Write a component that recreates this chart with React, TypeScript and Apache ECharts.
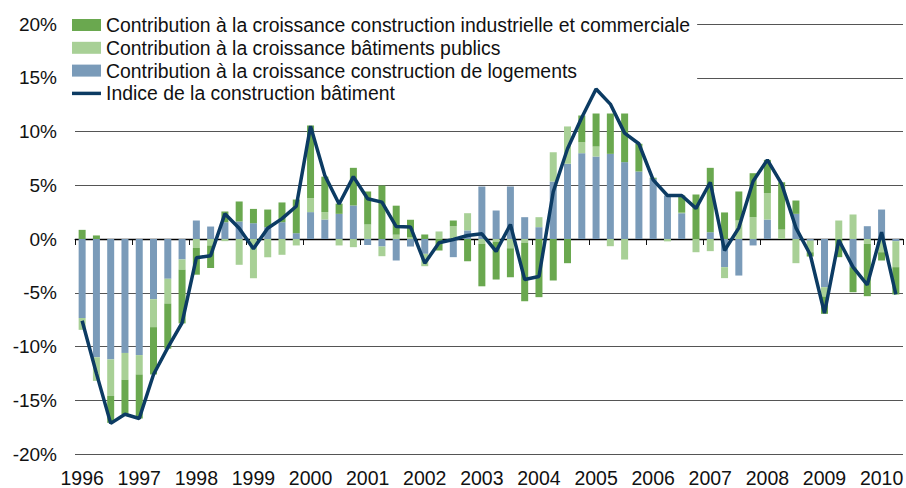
import React, { useEffect, useRef } from "react";
import * as echarts from "echarts";

const years = ["1996","1997","1998","1999","2000","2001","2002","2003","2004","2005","2006","2007","2008","2009","2010"];
const quarterCount = 58;

const seriesNames = [
  "Contribution à la croissance construction industrielle et commerciale",
  "Contribution à la croissance bâtiments publics",
  "Contribution à la croissance construction de logements",
  "Indice de la construction bâtiment",
];

// Logements (blue)
const logements = [
  -7.35, -11.0, -11.2, -10.6, -10.8, -5.6, -3.7, -1.9,
  1.72, 1.16, 1.56, 1.63, 1.47, 1.1, 1.56, 0.54,
  2.5, 1.81, 2.34, 3.12, -0.56, -0.7, -2.0, -0.7,
  -1.38, 0, -1.69, 0.8, 4.88, 2.65, 4.88, 2.03,
  1.1, 5.35, 7.0, 7.98, 7.67, 7.92, 7.15, 6.28,
  5.6, 4.05, 2.4, 0, 0.63, -2.62, -3.4, -0.6,
  1.81, 0, 2.34, -0.15, -4.48, 0, -2.62, 1.19,
  2.74, -0.2,
];

// Bâtiments publics (light green)
const publics = [
  -1.1, -2.2, -3.4, -2.5, -1.8, -2.6, -2.3, -0.95,
  -0.82, -0.6, -0.2, -2.4, -3.65, -1.7, -1.47, -0.6,
  1.3, 0.69, -0.6, -0.76, 1.35, -0.9, 0.4, 0.15,
  -1.15, 0.7, 1.19, 1.6, -0.45, -0.25, -0.86, -0.34,
  0.93, 2.72, 3.47, 1.02, 0.93, -0.67, -1.91, 0,
  0, -0.22, 0.05, -1.23, -1.13, -1.02, 1.72, 2.03,
  2.45, 0.88, -2.25, -1.08, -0.87, 1.72, 2.28, -0.45,
  -1.23, -2.42,
];

// Industrielle et commerciale (dark green)
const industrielle = [
  0.85, 0.33, -2.5, -3.2, -4.1, -4.4, -4.2, -5.0,
  -2.5, -2.1, 1.0, 1.86, 1.33, 1.64, 1.84, 3.13,
  6.76, 3.3, 0.95, 3.5, 3.07, 4.98, 2.7, 1.64,
  0.42, -1.07, 0.53, -2.07, -3.95, -3.52, -2.69, -5.45,
  -5.41, -3.86, -2.25, 2.49, 5.37, 5.27, 4.65, 2.58,
  0.1, 0, 1.6, 4.14, 5.99, 2.47, 2.7, 4.09,
  3.1, 4.4, 1.24, -0.4, -1.61, -1.69, -2.33, -4.87,
  -0.77, -2.54,
];

// Indice (line)
const indice = [
  -7.6, -12.5, -17.15, -16.3, -16.7, -12.6, -10.1, -7.8,
  -1.75, -1.55, 2.34, 1.0, -0.9, 1.0, 1.9, 3.05,
  10.5, 5.9, 3.25, 5.8, 3.75, 3.43, 1.16, 1.12,
  -2.25, -0.35, -0.05, 0.33, 0.48, -1.15, 1.35, -3.77,
  -3.49, 4.4, 8.4, 11.3, 13.95, 12.55, 9.85, 8.86,
  5.5, 4.05, 4.05, 2.85, 5.28, -1.07, 1.04, 5.38,
  7.36, 5.13, 1.04, -1.44, -6.9, -0.09, -2.62, -4.26,
  0.63, -5.16,
];

const yTicks = { min: -20, max: 20, interval: 5 };

const categories: string[] = [];
for (let i = 0; i < quarterCount; i++) {
  categories.push(years[Math.floor(i / 4)] + "-T" + ((i % 4) + 1));
}

const FONT = "'Liberation Sans', Arial, Helvetica, sans-serif";
const C_DG = "#6aa84f";
const C_LG = "#a8d096";
const C_BL = "#7a9bb9";
const C_LN = "#0c3b63";

export default function App() {
  const ref = useRef<HTMLDivElement>(null);
  useEffect(() => {
    if (!ref.current) return;
    const chart = echarts.init(ref.current, null, { renderer: "svg" });
    chart.setOption({
      animation: false,
      textStyle: { fontFamily: FONT },
      grid: { left: 75, right: 3, top: 24, bottom: 34, containLabel: false, outerBoundsMode: "none" },
      legend: {
        orient: "vertical",
        left: 62,
        top: 7,
        padding: [8, 7, 10, 10],
        backgroundColor: "#ffffff",
        itemWidth: 29,
        itemHeight: 12,
        itemGap: 2.8,
        data: [
          { name: seriesNames[0], icon: "rect" },
          { name: seriesNames[1], icon: "rect" },
          { name: seriesNames[2], icon: "rect" },
          { name: seriesNames[3], icon: "path://M0,0H30V3.6H0Z" },
        ],
        textStyle: { fontSize: 19.4, color: "#111", fontFamily: FONT, lineHeight: 20 },
        selectedMode: false,
      },
      xAxis: {
        type: "category",
        data: categories,
        boundaryGap: true,
        axisLine: { show: true, lineStyle: { color: "#111", width: 1 } },
        axisTick: { show: true, interval: 3, length: 6, lineStyle: { color: "#111" } },
        axisLabel: {
          interval: 3,
          margin: 14,
          fontSize: 19.5,
          lineHeight: 19,
          color: "#111",
          fontFamily: FONT,
          formatter: (v: string) => v.split("-")[0],
        },
        splitLine: { show: false },
      },
      yAxis: {
        type: "value",
        min: yTicks.min,
        max: yTicks.max,
        interval: yTicks.interval,
        axisLine: { show: false },
        axisTick: { show: false },
        axisLabel: {
          margin: 18,
          fontSize: 19,
          color: "#111",
          fontFamily: FONT,
          formatter: (v: number) => v + "%",
        },
        splitLine: { show: true, lineStyle: { color: "#555", width: 1 } },
      },
      series: [
        {
          name: seriesNames[2],
          type: "bar",
          stack: "total",
          barWidth: 7,
          itemStyle: { color: C_BL },
          data: logements,
        },
        {
          name: seriesNames[1],
          type: "bar",
          stack: "total",
          barWidth: 7,
          itemStyle: { color: C_LG },
          data: publics,
        },
        {
          name: seriesNames[0],
          type: "bar",
          stack: "total",
          barWidth: 7,
          itemStyle: { color: C_DG },
          data: industrielle,
        },
        {
          name: seriesNames[3],
          type: "line",
          symbol: "none",
          z: 5,
          lineStyle: { color: C_LN, width: 3.5 },
          itemStyle: { color: C_LN },
          data: indice,
          markLine: {
            silent: true,
            symbol: "none",
            label: { show: false },
            lineStyle: { color: "#000", width: 1.3, type: "solid" },
            data: [{ yAxis: 0 }],
            z: 1,
          },
        },
      ],
    });
    return () => chart.dispose();
  }, []);
  return (
    <div
      ref={ref}
      style={{ position: "fixed", left: 0, top: 0, width: 906, height: 488, background: "#fff" }}
    />
  );
}
